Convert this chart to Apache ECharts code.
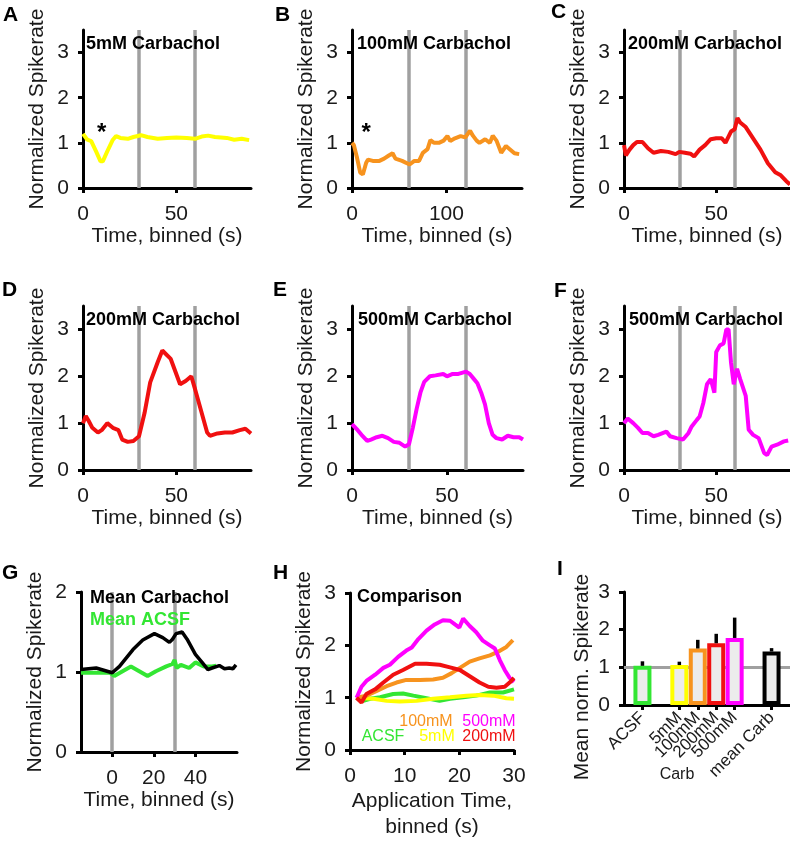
<!DOCTYPE html>
<html>
<head>
<meta charset="utf-8">
<script src="https://cdn.jsdelivr.net/npm/echarts@6/dist/echarts.min.js"></script>
<style>html,body{margin:0;padding:0;background:#fff}#c{width:790px;height:841px}</style>
</head>
<body>
<div id="c"></div>
<script>
// ---------- DATA ----------
// A: 5mM Carbachol
const aT = [0,2.3,4.4,7,9.4,10.6,13,16,17.7,20,24,27,31,34.5,40,45,50,55.6,60,63.6,67,70.7,77,81,85,89];
const aV = [1.2,1.07,1.04,0.81,0.59,0.59,0.81,1.07,1.15,1.11,1.09,1.13,1.17,1.13,1.09,1.11,1.12,1.11,1.09,1.14,1.16,1.13,1.11,1.07,1.09,1.06];
// B: 100mM Carbachol
const bT = [0,2,5,8.7,11.5,15,17,22,29,34,39,43,46,53,61,66,71,75,80,83,87,92,97,101,104,109,115,120,125,128,132,135,141,146,149,153,158,163,167,172,177];
const bV = [1.0,0.95,0.7,0.34,0.3,0.56,0.63,0.6,0.6,0.65,0.72,0.77,0.65,0.6,0.52,0.6,0.6,0.78,0.86,1.06,1.0,1.0,1.05,1.15,1.04,1.1,1.15,1.12,1.27,1.16,1.05,1.0,1.08,1.0,1.16,1.05,0.78,0.93,0.86,0.77,0.75];
// C: 200mM Carbachol
const cT = [0,1,3,5,7,10,13,16,20,24,28,30,33,36,38,41,44,47,50,53,55,58,60,61.5,63,66,70,74,78,82,85,88,90];
const cV = [0.95,0.72,0.85,0.95,1.02,1.02,0.88,0.78,0.82,0.8,0.75,0.8,0.78,0.76,0.7,0.85,0.95,1.08,1.1,1.1,1.0,1.25,1.3,1.55,1.45,1.35,1.1,0.85,0.55,0.35,0.28,0.15,0.08];
// D: 200mM Carbachol
const dT = [0,1.5,3,5,8,10,13,16,19,21,24,27,30,33,36,40,42.5,47,52,55,58,60,63,66.5,68,72,76,80,84,87,90];
const dV = [1.0,1.15,1.05,0.9,0.8,0.85,1.0,0.9,0.85,0.65,0.6,0.62,0.72,1.22,1.87,2.3,2.55,2.37,1.83,1.9,2.0,1.73,1.3,0.8,0.73,0.78,0.8,0.8,0.85,0.88,0.78];
// E: 500mM Carbachol
const eT = [0,3,5,8,10,13,16,19,22,25,28,30,32,34,36,38,41,44,48,50,53,56,60,62,64,66,68,70,72,74,76,79,82,85,88,90];
const eV = [0.98,0.85,0.75,0.62,0.65,0.7,0.73,0.68,0.6,0.58,0.5,0.55,0.9,1.3,1.65,1.88,2.0,2.02,2.05,2.0,2.05,2.05,2.1,2.05,1.95,1.85,1.65,1.4,1.0,0.75,0.68,0.65,0.73,0.7,0.7,0.65];
// F: 500mM Carbachol
const fT = [0,2,5,7.6,10,13,16,18.5,23,25,28.5,32,35,36.7,39.5,41,43,45,47,48,49,50,52,54,55.5,56.7,58,59.5,61.3,63,66,67.6,70,73,76,77.6,80,83,86.7,89];
const fV = [1.0,1.1,1.0,0.9,0.79,0.79,0.72,0.75,0.82,0.72,0.68,0.65,0.79,0.93,1.07,1.14,1.43,1.83,1.94,1.9,1.65,2.52,2.66,2.7,3.0,3.0,2.3,1.83,2.16,1.94,1.58,0.86,0.75,0.68,0.36,0.32,0.5,0.54,0.61,0.63];
// G: means
const gT = [-15,-7.7,0,3.5,10,14.7,20.3,24.3,27.5,29,30.7,33.6,36,40,43.5,46,48,51.5,54,56.3,58,59.5];
const gCarb = [1.03,1.05,0.99,1.07,1.28,1.4,1.48,1.43,1.37,1.41,1.48,1.5,1.41,1.22,1.11,1.03,1.05,1.08,1.04,1.05,1.04,1.09];
const gAT = [-15,-8,-1,1,5,9,13,17,21,26,29,30,31,33,37,40,44,48,50];
const gAcsf = [0.99,0.99,0.99,0.95,1.01,1.07,1.01,0.95,1.01,1.07,1.1,1.15,1.05,1.09,1.05,1.12,1.07,1.07,1.08];
// H: comparison
const hAT = [1.2,2.1,3.7,5.5,7.9,9.7,11.6,14,16.4,18.3,20.7,23.1,25.6,28,30];
const hAV = [1.0,0.93,0.98,1.01,1.07,1.08,1.04,0.99,0.94,0.98,1.01,1.04,1.1,1.1,1.16];
const h5T = [1.2,4.3,6.7,9.1,12.2,15.2,18.3,21.3,23.7,26.2,28.6,30];
const h5V = [1.0,0.98,0.94,0.93,0.94,0.98,1.01,1.04,1.05,1.04,0.99,0.98];
const h100T = [1.2,3,4.9,6.7,8.5,10.3,12.8,15.2,17,18.6,20.1,21.9,23.7,25.6,27.1,28.6,29.8];
const h100V = [1.0,1.04,1.13,1.22,1.29,1.34,1.34,1.35,1.38,1.47,1.57,1.69,1.75,1.81,1.88,1.97,2.1];
const h500T = [1.2,2.1,3,4.6,6.1,7.3,8.8,10.3,11.3,12.5,14,15.5,17,18.3,19.2,20,20.7,21.9,23.1,24.3,25.6,26.5,27.4,28.3,29.2,30];
const h500V = [1.0,1.21,1.32,1.44,1.57,1.63,1.78,1.9,1.96,2.12,2.28,2.4,2.48,2.47,2.4,2.34,2.51,2.37,2.25,2.09,2.0,1.94,1.72,1.53,1.38,1.3];
const h200T = [1.2,2.1,3,4.6,6.1,7.9,9.7,11.9,14,16.4,18.3,20.1,21.9,23.7,25.3,26.8,28.3,29.2,30];
const h200V = [1.0,0.91,1.07,1.16,1.29,1.44,1.53,1.65,1.65,1.63,1.58,1.53,1.41,1.29,1.21,1.19,1.21,1.29,1.38];
// I: bar summary
const iCats = ['ACSF','5mM','100mM','200mM','500mM','mean Carb'];
const iPos = [1,3,4,5,6,8];
const iMean = [1.04,1.06,1.5,1.64,1.78,1.42];
const iSem = [0.12,0.09,0.23,0.25,0.54,0.09];
// tick labels
const tick90 = [0,50];
const tick180 = [0,100];
const tickG = [0,20,40];
const tickH = [0,10,20,30];
const tickY3 = [0,1,2,3];
const tickY2 = [0,1,2];

// ---------- STYLE ----------
const FONT = '"Liberation Sans", Arial, Helvetica, sans-serif';
const YELLOW = '#ffff00', ORANGE = '#f7931e', RED = '#f01010', MAGENTA = '#ff00ff', GREEN = '#33e633', BLACK = '#000000';
const GRAY = '#a0a0a0';
const TXT = '#1a1a1a';
const FS = 21;
const LW = 4;

function zip(t, v) { return t.map((x, i) => [x, v[i]]); }

const grids = [
  {left:83, top:30, width:168, height:158},
  {left:352, top:30, width:170, height:158},
  {left:624, top:30, width:166, height:158},
  {left:83, top:306, width:168, height:164},
  {left:352, top:306, width:171, height:164},
  {left:624, top:306, width:166, height:164},
  {left:81, top:592, width:156, height:160},
  {left:350, top:593, width:164, height:159},
  {left:624, top:592, width:166, height:113}
];

const axisLine = {show:true, onZero:false, lineStyle:{color:'#000', width:3}};
function xAx(i, min, max, ticks, name, extra) {
  return Object.assign({
    type:'value', gridIndex:i, min:min, max:max,
    axisLine:axisLine,
    axisTick:{show:true, inside:false, length:5, lineStyle:{color:'#000', width:3}, customValues:ticks},
    axisLabel:{show:true, customValues:ticks, margin:16, fontSize:FS, color:TXT, fontFamily:FONT},
    splitLine:{show:false},
    name:name, nameLocation:'middle', nameGap:38,
    nameTextStyle:{fontSize:FS, color:TXT, fontFamily:FONT}
  }, extra || {});
}
function yAx(i, max, ticks, name) {
  return {
    type:'value', gridIndex:i, min:0, max:max,
    axisLine:axisLine,
    axisTick:{show:true, inside:false, length:5, lineStyle:{color:'#000', width:3}, customValues:ticks},
    axisLabel:{show:true, customValues:ticks, margin:14, fontSize:FS, color:TXT, fontFamily:FONT},
    splitLine:{show:false},
    name:name, nameLocation:'middle', nameGap:35, nameRotate:90,
    nameTextStyle:{fontSize:FS, color:TXT, fontFamily:FONT}
  };
}
const YN = 'Normalized Spikerate';
const XN = 'Time, binned (s)';

const xAxes = [
  xAx(0, 0, 90, tick90, XN),
  xAx(1, 0, 180, tick180, XN),
  xAx(2, 0, 90, tick90, XN),
  xAx(3, 0, 90, tick90, XN),
  xAx(4, 0, 90, tick90, XN),
  xAx(5, 0, 90, tick90, XN),
  xAx(6, -15, 60, tickG, XN),
  xAx(7, 0, 30, tickH, 'Application Time,\nbinned (s)', {nameGap:36, nameTextStyle:{fontSize:FS, color:TXT, fontFamily:FONT, lineHeight:26}}),
  xAx(8, 0, 9, iPos, '', {axisLabel:{show:true, customValues:iPos, rotate:45, margin:10, fontSize:17, color:TXT, fontFamily:FONT,
        formatter:function(v){ const k = iPos.indexOf(Math.round(v)); return k >= 0 ? iCats[k] : ''; }}})
];
const yAxes = [
  yAx(0, 3.5, tickY3, YN), yAx(1, 3.5, tickY3, YN), yAx(2, 3.5, tickY3, YN),
  yAx(3, 3.5, tickY3, YN), yAx(4, 3.5, tickY3, YN), yAx(5, 3.5, tickY3, YN),
  yAx(6, 2, tickY2, YN), yAx(7, 3, tickY3, YN), yAx(8, 3, tickY3, '')
];

function vlines(vals) {
  return {silent:true, z:1, symbol:['none','none'], label:{show:false}, animation:false,
    lineStyle:{color:GRAY, width:3.5, type:'solid'}, data:vals.map(v => ({xAxis:v}))};
}
function star(x, y) {
  return {silent:true, symbol:'circle', symbolSize:0, animation:false,
    label:{show:true, formatter:'*', fontSize:24, fontWeight:'bold', color:'#000', fontFamily:FONT},
    data:[{coord:[x, y]}]};
}
function curve(i, t, v, color, extra) {
  return Object.assign({
    type:'line', xAxisIndex:i, yAxisIndex:i, data:zip(t, v), showSymbol:false, silent:true,
    lineStyle:{color:color, width:LW}, itemStyle:{color:color}, z:3, animation:false
  }, extra || {});
}

const series = [
  curve(0, aT, aV, YELLOW, {markLine:vlines([30,60]), markPoint:star(10,1.2)}),
  curve(1, bT, bV, ORANGE, {markLine:vlines([60,120]), markPoint:star(15,1.2)}),
  curve(2, cT, cV, RED, {markLine:vlines([30,60])}),
  curve(3, dT, dV, RED, {markLine:vlines([30,60])}),
  curve(4, eT, eV, MAGENTA, {markLine:vlines([30,60])}),
  curve(5, fT, fV, MAGENTA, {markLine:vlines([30,60])}),
  curve(6, gAT, gAcsf, GREEN, {markLine:vlines([0,30])}),
  curve(6, gT, gCarb, BLACK, {lineStyle:{color:BLACK, width:3.5}}),
  curve(7, hAT, hAV, GREEN),
  curve(7, h5T, h5V, YELLOW),
  curve(7, h100T, h100V, ORANGE),
  curve(7, h500T, h500V, MAGENTA),
  curve(7, h200T, h200V, RED),
  {
    type:'bar', xAxisIndex:8, yAxisIndex:8, barWidth:18, barMaxWidth:30, silent:true, animation:false, z:3,
    data:iPos.map((p, k) => ({value:[p, iMean[k]], itemStyle:{color:'#ececec', borderColor:[GREEN, YELLOW, ORANGE, RED, MAGENTA, BLACK][k], borderWidth:4}})),
    markLine:{silent:true, z:1, symbol:['none','none'], label:{show:false}, animation:false,
      lineStyle:{color:GRAY, width:3, type:'solid'}, data:[{yAxis:1}]}
  },
  {
    type:'custom', xAxisIndex:8, yAxisIndex:8, silent:true, animation:false, z:5,
    data:iPos.map((p, k) => [p, iMean[k], iSem[k]]),
    renderItem:function(params, api) {
      const x = api.value(0), m = api.value(1), s = api.value(2);
      const p0 = api.coord([x, m]), p1 = api.coord([x, m + s]);
      return {type:'line', shape:{x1:p0[0], y1:p0[1], x2:p1[0], y2:p1[1]}, style:{stroke:'#000', lineWidth:3.5}};
    }
  }
];

function txt(text, x, y, opts) {
  opts = opts || {};
  return {type:'text', x:x, y:y, rotation:opts.rot || 0, silent:true, z:10,
    style:{text:text, fill:opts.color || '#000', font:(opts.weight || 'normal') + ' ' + (opts.size || 18) + 'px ' + FONT,
      textAlign:opts.align || 'left', textVerticalAlign:'middle'}};
}
const graphic = [
  txt('A', 3, 15, {weight:'bold', size:21}),
  txt('B', 275, 15, {weight:'bold', size:21}),
  txt('C', 551, 12, {weight:'bold', size:21}),
  txt('D', 2, 290, {weight:'bold', size:21}),
  txt('E', 273, 290, {weight:'bold', size:21}),
  txt('F', 554, 291, {weight:'bold', size:21}),
  txt('G', 2, 573, {weight:'bold', size:21}),
  txt('H', 273, 573, {weight:'bold', size:21}),
  txt('I', 557, 569, {weight:'bold', size:21}),
  txt('5mM Carbachol', 86, 44, {weight:'bold'}),
  txt('100mM Carbachol', 357, 44, {weight:'bold'}),
  txt('200mM Carbachol', 628, 44, {weight:'bold'}),
  txt('200mM Carbachol', 86, 320, {weight:'bold'}),
  txt('500mM Carbachol', 358, 320, {weight:'bold'}),
  txt('500mM Carbachol', 629, 320, {weight:'bold'}),
  txt('Comparison', 357, 597, {weight:'bold'}),
  txt('Mean Carbachol', 90, 598, {weight:'bold'}),
  txt('Mean ACSF', 90, 620, {weight:'bold', color:GREEN}),
  txt('100mM', 426, 722, {align:'center', size:16, color:ORANGE}),
  txt('500mM', 489, 722, {align:'center', size:16, color:MAGENTA}),
  txt('ACSF', 383, 737, {align:'center', size:16, color:GREEN}),
  txt('5mM', 437, 737, {align:'center', size:16, color:YELLOW}),
  txt('200mM', 489, 737, {align:'center', size:16, color:RED}),
  txt('Carb', 677, 775, {align:'center', size:16, color:TXT}),
  txt('Mean norm. Spikerate', 582, 677, {align:'center', size:21, color:TXT, rot:Math.PI/2})
];

const chart = echarts.init(document.getElementById('c'), null, {renderer:'canvas'});
chart.setOption({
  animation:false,
  backgroundColor:'#ffffff',
  textStyle:{fontFamily:FONT},
  grid:grids,
  xAxis:xAxes,
  yAxis:yAxes,
  series:series,
  graphic:graphic
});
</script>
</body>
</html>
